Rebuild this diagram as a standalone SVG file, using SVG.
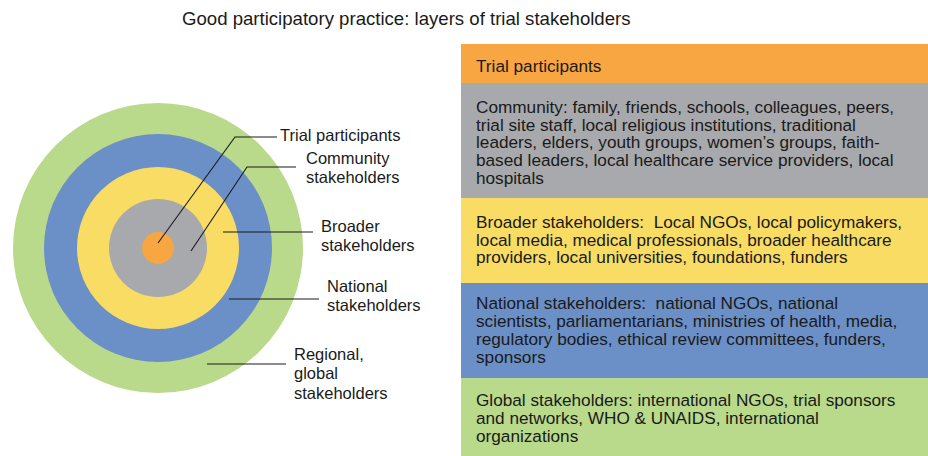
<svg xmlns="http://www.w3.org/2000/svg" width="928" height="456" viewBox="0 0 928 456">
  <style>
    text { font-family: "Liberation Sans", Arial, Helvetica, sans-serif; fill: #1a1a1a; }
    .title { font-size: 18.6px; }
    .lbl { font-size: 16.5px; }
    .row { font-size: 17.2px; }
    .lead { fill: none; stroke: #1a1a1a; stroke-width: 1.1; }
    .orange { fill: #F8A642; }
    .gray { fill: #A7A9AC; }
    .yellow { fill: #F9DC63; }
    .blue { fill: #6B8FC7; }
    .green { fill: #B9D98B; }
  </style>

  <rect width="928" height="456" fill="#ffffff"/>

  <text class="title" x="182" y="25">Good participatory practice: layers of trial stakeholders</text>

  <!-- Concentric layers -->
  <g id="rings">
    <circle id="ring-global" class="green" cx="158" cy="248" r="145"/>
    <circle id="ring-national" class="blue" cx="158" cy="248" r="114"/>
    <circle id="ring-broader" class="yellow" cx="158" cy="248" r="81"/>
    <circle id="ring-community" class="gray" cx="158" cy="248" r="49"/>
    <circle id="ring-participants" class="orange" cx="158" cy="248" r="16"/>
  </g>

  <!-- Leader lines -->
  <g id="connectors">
    <path class="lead" d="M158,243 L235,137 L277,137"/>
    <path class="lead" d="M191,251 L247,167 L296,167"/>
    <path class="lead" d="M223,232 L313,232"/>
    <path class="lead" d="M229,299 L319,299"/>
    <path class="lead" d="M207,364 L286,364"/>
  </g>

  <!-- Ring labels -->
  <g id="label-participants">
    <text class="lbl" x="280" y="141">Trial participants</text>
  </g>
  <g id="label-community">
    <text class="lbl" x="306" y="164">Community<tspan x="306" dy="19">stakeholders</tspan></text>
  </g>
  <g id="label-broader">
    <text class="lbl" x="321" y="232">Broader<tspan x="321" dy="19">stakeholders</tspan></text>
  </g>
  <g id="label-national">
    <text class="lbl" x="327" y="292">National<tspan x="327" dy="19">stakeholders</tspan></text>
  </g>
  <g id="label-global">
    <text class="lbl" x="294" y="359.5">Regional,<tspan x="294" dy="19.5">global</tspan><tspan x="294" dy="19.5">stakeholders</tspan></text>
  </g>

  <!-- Stakeholder table -->
  <g id="row-participants">
    <rect class="orange" x="461" y="44" width="467" height="39"/>
    <text class="row" x="476" y="72">Trial participants</text>
  </g>
  <g id="row-community">
    <rect class="gray" x="461" y="83" width="467" height="115"/>
    <text class="row" x="476" y="113">Community: family, friends, schools, colleagues, peers,<tspan x="476" dy="17.7">trial site staff, local religious institutions, traditional</tspan><tspan x="476" dy="17.7">leaders, elders, youth groups, women’s groups, faith-</tspan><tspan x="476" dy="17.7">based leaders, local healthcare service providers, local</tspan><tspan x="476" dy="17.7">hospitals</tspan></text>
  </g>
  <g id="row-broader">
    <rect class="yellow" x="461" y="198" width="467" height="85"/>
    <text class="row" x="476" y="227.7" xml:space="preserve">Broader stakeholders:  Local NGOs, local policymakers,<tspan x="476" dy="17.8">local media, medical professionals, broader healthcare</tspan><tspan x="476" dy="17.8">providers, local universities, foundations, funders</tspan></text>
  </g>
  <g id="row-national">
    <rect class="blue" x="461" y="283" width="467" height="95"/>
    <text class="row" x="476" y="309.3" xml:space="preserve">National stakeholders:  national NGOs, national<tspan x="476" dy="17.8">scientists, parliamentarians, ministries of health, media,</tspan><tspan x="476" dy="17.8">regulatory bodies, ethical review committees, funders,</tspan><tspan x="476" dy="17.8">sponsors</tspan></text>
  </g>
  <g id="row-global">
    <rect class="green" x="461" y="378" width="467" height="78"/>
    <text class="row" x="476" y="406">Global stakeholders: international NGOs, trial sponsors<tspan x="476" dy="17.8">and networks, WHO &amp; UNAIDS, international</tspan><tspan x="476" dy="17.8">organizations</tspan></text>
  </g>
</svg>
